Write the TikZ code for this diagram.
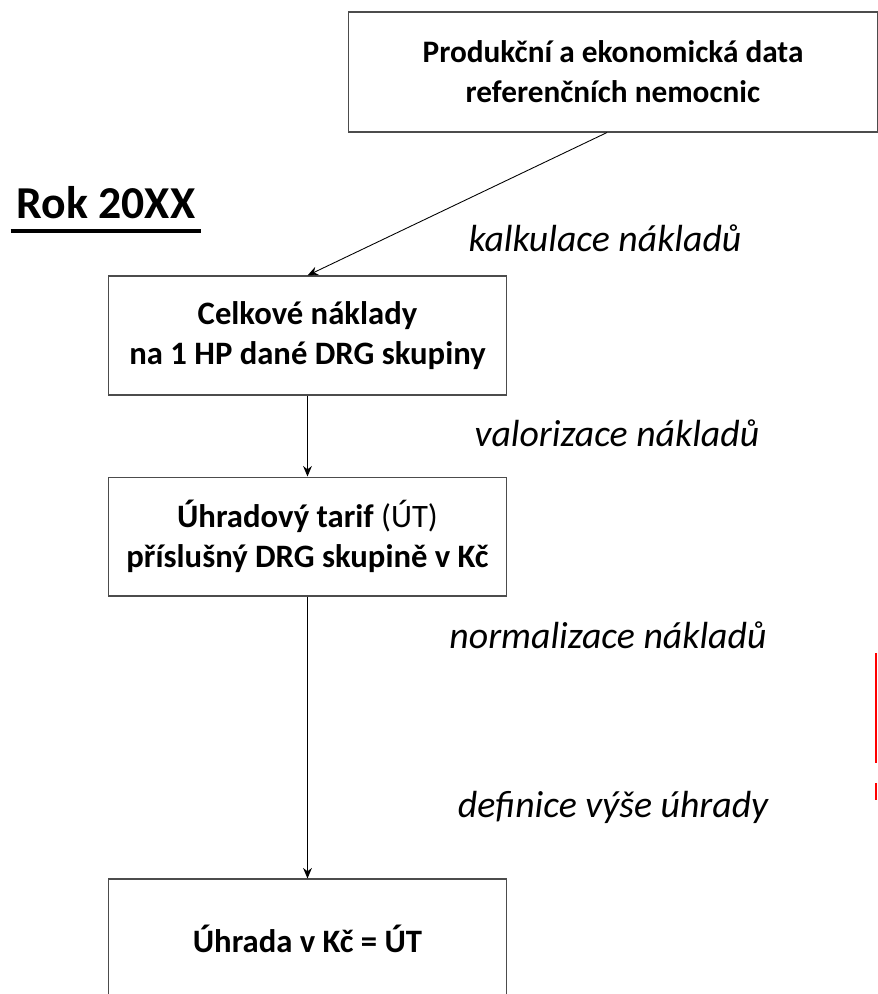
\documentclass[tikz,border=0pt]{standalone}
\usepackage{fontspec}
\setmainfont{Carlito}
\usetikzlibrary{arrows.meta, positioning}

\begin{document}
\begin{tikzpicture}[
  x=0.02cm, y=-0.02cm,
  box/.style={rectangle, draw=black!70, line width=0.6pt, align=center,
              fill=white, inner sep=0pt, minimum width=7.98cm,
              minimum height=2.38cm, font=\fontsize{18.6}{22.7}\selectfont},
  arr/.style={-{Stealth[length=6pt, width=5pt]}, line width=0.5pt},
  lbl/.style={font=\itshape\fontsize{21.5}{26}\selectfont},
  node distance=1.62cm
]
\useasboundingbox (0,0) rectangle (877,994);
\node (data) [box, minimum width=10.6cm, minimum height=2.4cm,
  font=\fontsize{17.8}{22.7}\selectfont] at (613,72)
  {\textbf{Produkční a ekonomická data}\\ \textbf{referenčních nemocnic}};
\node (rok) [font=\bfseries\fontsize{26}{30}\selectfont, anchor=base]
  at (106,218) {Rok 20XX};
\node (naklady) [box] at (307.5,335.5)
  {\textbf{Celkové náklady}\\ \textbf{na 1 HP dané DRG skupiny}};
\node (tarif) [box, below=of naklady]
  {\textbf{Úhradový tarif} (ÚT)\\ \textbf{příslušný DRG skupině v Kč}};
\node (uhrada) [box, below=5.64cm of tarif]
  {\textbf{Úhrada v Kč = ÚT}};
\draw[line width=2.3pt] ([yshift=-0.26cm]rok.base west)
  -- ([yshift=-0.26cm]rok.base east);
% labels beside the arrows
\node (kalk) [lbl] at (605,238) {kalkulace nákladů};
\node (valor) [lbl] at (617,433) {valorizace nákladů};
\node (norm) [lbl] at (608,635) {normalizace nákladů};
\node (defin) [lbl] at (613,807) {definice výše úhrady};
\draw[arr] ([xshift=-0.12cm]data.south) -- (naklady.north);
\draw[arr] (naklady) -- (tarif);
\draw[arr] (tarif) -- (uhrada);
\draw[red, line width=1.2pt] (876,653) -- (876,763) (876,783) -- (876,800);
\end{tikzpicture}
\end{document}
